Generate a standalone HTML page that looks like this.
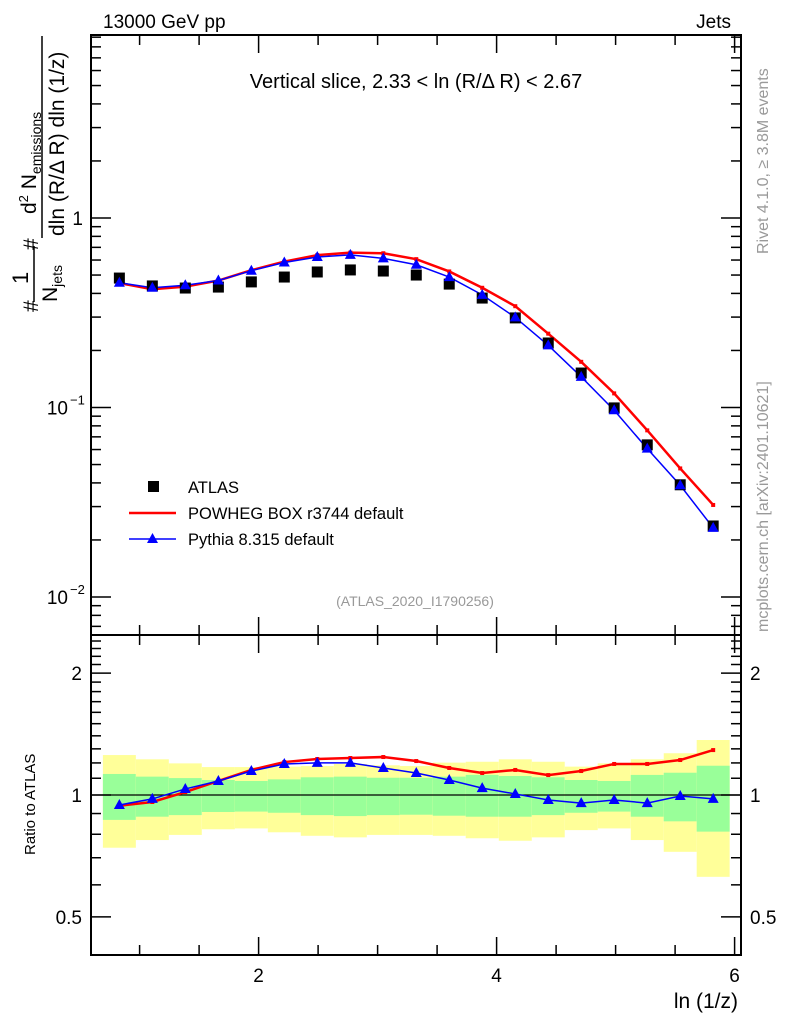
<!DOCTYPE html>
<html><head><meta charset="utf-8"><style>
html,body{margin:0;padding:0;background:#fff;}
svg{display:block;font-family:"Liberation Sans",sans-serif;}
</style></head><body>
<svg id="chart" width="786" height="1024" viewBox="0 0 786 1024">
<g id="bands"></g><g id="grid"></g><g id="series"></g><g id="axes"></g>
<text x="103" y="28" font-size="19">13000 GeV pp</text>
<text x="731" y="28" font-size="19" text-anchor="end">Jets</text>
<text x="416" y="88" font-size="20" text-anchor="middle">Vertical slice, 2.33 &lt; ln (R/Δ R) &lt; 2.67</text>
<text x="415" y="606" font-size="14" fill="#999" text-anchor="middle">(ATLAS_2020_I1790256)</text>
<text transform="translate(768,254) rotate(-90)" font-size="16" fill="#999">Rivet 4.1.0, ≥ 3.8M events</text>
<text transform="translate(768,632) rotate(-90)" font-size="16" fill="#999">mcplots.cern.ch [arXiv:2401.10621]</text>
<g font-size="21">
<text transform="translate(38,312) rotate(-90)">#</text>
<text transform="translate(28,284) rotate(-90)" font-size="22">1</text>
<line x1="34" y1="302" x2="34" y2="246" stroke="#000" stroke-width="1.5"/>
<text transform="translate(57,302) rotate(-90)">N<tspan font-size="14" dy="5">jets</tspan></text>
<text transform="translate(38,250) rotate(-90)">#</text>
<text transform="translate(36,214) rotate(-90)">d<tspan font-size="13" dy="-8">2</tspan><tspan dy="8"> N</tspan><tspan font-size="14" dy="5">emissions</tspan></text>
<line x1="42" y1="238" x2="42" y2="36" stroke="#000" stroke-width="1.5"/>
<text transform="translate(64,236) rotate(-90)">dln (R/Δ R) dln (1/z)</text>
</g>
<text transform="translate(35,855) rotate(-90)" font-size="15">Ratio to ATLAS</text>
<text x="738" y="1008" font-size="21" text-anchor="end">ln (1/z)</text>
<g font-size="16.5">
<rect x="148" y="481" width="11" height="11" fill="#000"/>
<text x="188" y="493">ATLAS</text>
<line x1="129" y1="513" x2="176" y2="513" stroke="#f00" stroke-width="2.5"/>
<text x="188" y="519">POWHEG BOX r3744 default</text>
<line x1="129" y1="539" x2="176" y2="539" stroke="#00f" stroke-width="1.5"/>
<path d="M152.5,533 L158,543 L147,543 Z" fill="#00f"/>
<text x="188" y="545">Pythia 8.315 default</text>
</g>
</svg>
<script>
const xCenters=[0.83,1.107,1.384,1.662,1.939,2.216,2.493,2.771,3.048,3.325,3.602,3.879,4.157,4.434,4.711,4.988,5.266,5.543,5.82];
const atlasValues=[0.482,0.438,0.427,0.432,0.46,0.488,0.519,0.532,0.525,0.50,0.448,0.378,0.297,0.219,0.152,0.0995,0.0635,0.0391,0.0237];
const powhegRatio=[0.941,0.961,1.017,1.083,1.153,1.206,1.227,1.234,1.241,1.213,1.166,1.133,1.153,1.12,1.146,1.193,1.193,1.22,1.291];
const pythiaRatio=[0.945,0.978,1.035,1.083,1.146,1.193,1.2,1.2,1.166,1.133,1.089,1.04,1.006,0.972,0.955,0.972,0.955,0.994,0.978];
const yellowUp=[1.255,1.225,1.197,1.172,1.172,1.175,1.179,1.193,1.184,1.179,1.202,1.208,1.225,1.208,1.175,1.197,1.225,1.268,1.367];
const yellowLo=[0.741,0.774,0.797,0.823,0.827,0.809,0.793,0.786,0.797,0.797,0.793,0.782,0.771,0.786,0.819,0.827,0.774,0.724,0.628];
const greenUp=[1.127,1.110,1.101,1.089,1.083,1.093,1.106,1.110,1.103,1.103,1.110,1.121,1.114,1.106,1.089,1.083,1.121,1.135,1.181];
const greenLo=[0.868,0.884,0.892,0.908,0.910,0.904,0.892,0.887,0.892,0.894,0.889,0.884,0.884,0.892,0.904,0.910,0.884,0.861,0.812];
const xTicks=[2,4,6];
const binW=0.277;

const L=91,R=741,T=35,MB=635,B=955;
const X=v=>20.6+119*v;
const Y=v=>218-189.5*Math.log10(v);
const YR=v=>795-405*Math.log10(v);
const NS="http://www.w3.org/2000/svg";
function mk(tag,at,parent){const e=document.createElementNS(NS,tag);for(const k in at)e.setAttribute(k,at[k]);document.getElementById(parent).appendChild(e);return e;}

xCenters.forEach((c,i)=>{
 const x0=X(c-binW/2),w=X(c+binW/2)-x0;
 let e=mk('rect',{x:x0,y:YR(yellowUp[i]),width:w,height:YR(yellowLo[i])-YR(yellowUp[i]),fill:'#ffff99'},'bands');
 
 
 e=mk('rect',{x:x0,y:YR(greenUp[i]),width:w,height:YR(greenLo[i])-YR(greenUp[i]),fill:'#99ff99'},'bands');
 
 
});
let ln=mk('line',{x1:L,x2:R,y1:YR(1),y2:YR(1),stroke:'#000','stroke-width':1.2},'bands');



function poly(pts,col,w,name){const p=mk('polyline',{points:pts.map(q=>q.join(',')).join(' '),fill:'none',stroke:col,'stroke-width':w},'series');
 
 }
const pw=atlasValues.map((v,i)=>v*powhegRatio[i]);
const py=atlasValues.map((v,i)=>v*pythiaRatio[i]);
poly(xCenters.map((c,i)=>[X(c),Y(pw[i])]),'#f00',2.5,'powheg-line');
poly(xCenters.map((c,i)=>[X(c),Y(py[i])]),'#00f',1.5,'pythia-line');
poly(xCenters.map((c,i)=>[X(c),YR(powhegRatio[i])]),'#f00',2.5,'powheg-ratio-line');
poly(xCenters.map((c,i)=>[X(c),YR(pythiaRatio[i])]),'#00f',1.5,'pythia-ratio-line');
xCenters.forEach((c,i)=>{
 const x=X(c);
 let s=mk('rect',{x:x-5.5,y:Y(atlasValues[i])-5.5,width:11,height:11,fill:'#000'},'series');
 
 
 [[Y(pw[i]),'powheg-point'],[YR(powhegRatio[i]),'powheg-ratio-point']].forEach(([y,n])=>{
  const r=mk('rect',{x:x-2,y:y-2,width:4,height:4,fill:'#f00'},'series');
  
  
 });
 [[Y(py[i]),'pythia-point'],[YR(pythiaRatio[i]),'pythia-ratio-point']].forEach(([y,n])=>{
  const t=mk('path',{d:`M${x},${y-6} L${x+5.5},${y+4} L${x-5.5},${y+4} Z`,fill:'#00f'},'series');
  
  
 });
});

[[T,MB,'main-plot-frame'],[MB,B,'ratio-plot-frame']].forEach(([t,b,n])=>{
 const f=mk('rect',{x:L,y:t,width:R-L,height:b-t,fill:'none',stroke:'#000','stroke-width':2},'axes');
 
 
});
function tk(x1,y1,x2,y2){mk('line',{x1,y1,x2,y2,stroke:'#000','stroke-width':1.5},'axes');}
function txt(x,y,s,anchor,size,parent,name){const e=mk('text',{x,y,'font-size':size,'text-anchor':anchor},'axes');e.textContent=s;
 
 return e;}
for(let v=1;v<=6.001;v+=0.5){const x=X(v);if(x<L||x>R)continue;const maj=v%2===0;const h=maj?18:10;
 [T,MB].forEach(t=>tk(x,t,x,t+h));[MB,B].forEach(b=>tk(x,b,x,b-h));}
xTicks.forEach(v=>txt(X(v),982,String(v),'middle',19,'axes','x-tick-label'));
for(let d=-3;d<=0;d++)for(let m=1;m<=9;m++){const v=m*Math.pow(10,d);const y=Y(v);if(y<T||y>MB)continue;const h=m===1?20:10;tk(L,y,L+h,y);tk(R,y,R-h,y);}
txt(83,225,'1','end',19,'axes','y-tick-label');
[[0.1,'−1'],[0.01,'−2']].forEach(([v,e])=>{txt(68,Y(v)+7,'10','end',19,'axes','y-tick-label');
 const s=mk('text',{x:70,y:Y(v)-3,'font-size':13},'axes');s.textContent=e;
 
 });
for(let v=0.5;v<=2.45;v+=0.1){const y=YR(v);if(y<MB||y>B)continue;const maj=[0.5,1,2].some(q=>Math.abs(q-v)<1e-6);const h=maj?20:10;tk(L,y,L+h,y);tk(R,y,R-h,y);}
[[2,'2'],[1,'1'],[0.5,'0.5']].forEach(([v,s])=>{txt(82,YR(v)+7,s,'end',19,'axes','ratio-tick-label');txt(750,YR(v)+7,s,'start',19,'axes','ratio-tick-label-right');});
</script>
</body></html>
